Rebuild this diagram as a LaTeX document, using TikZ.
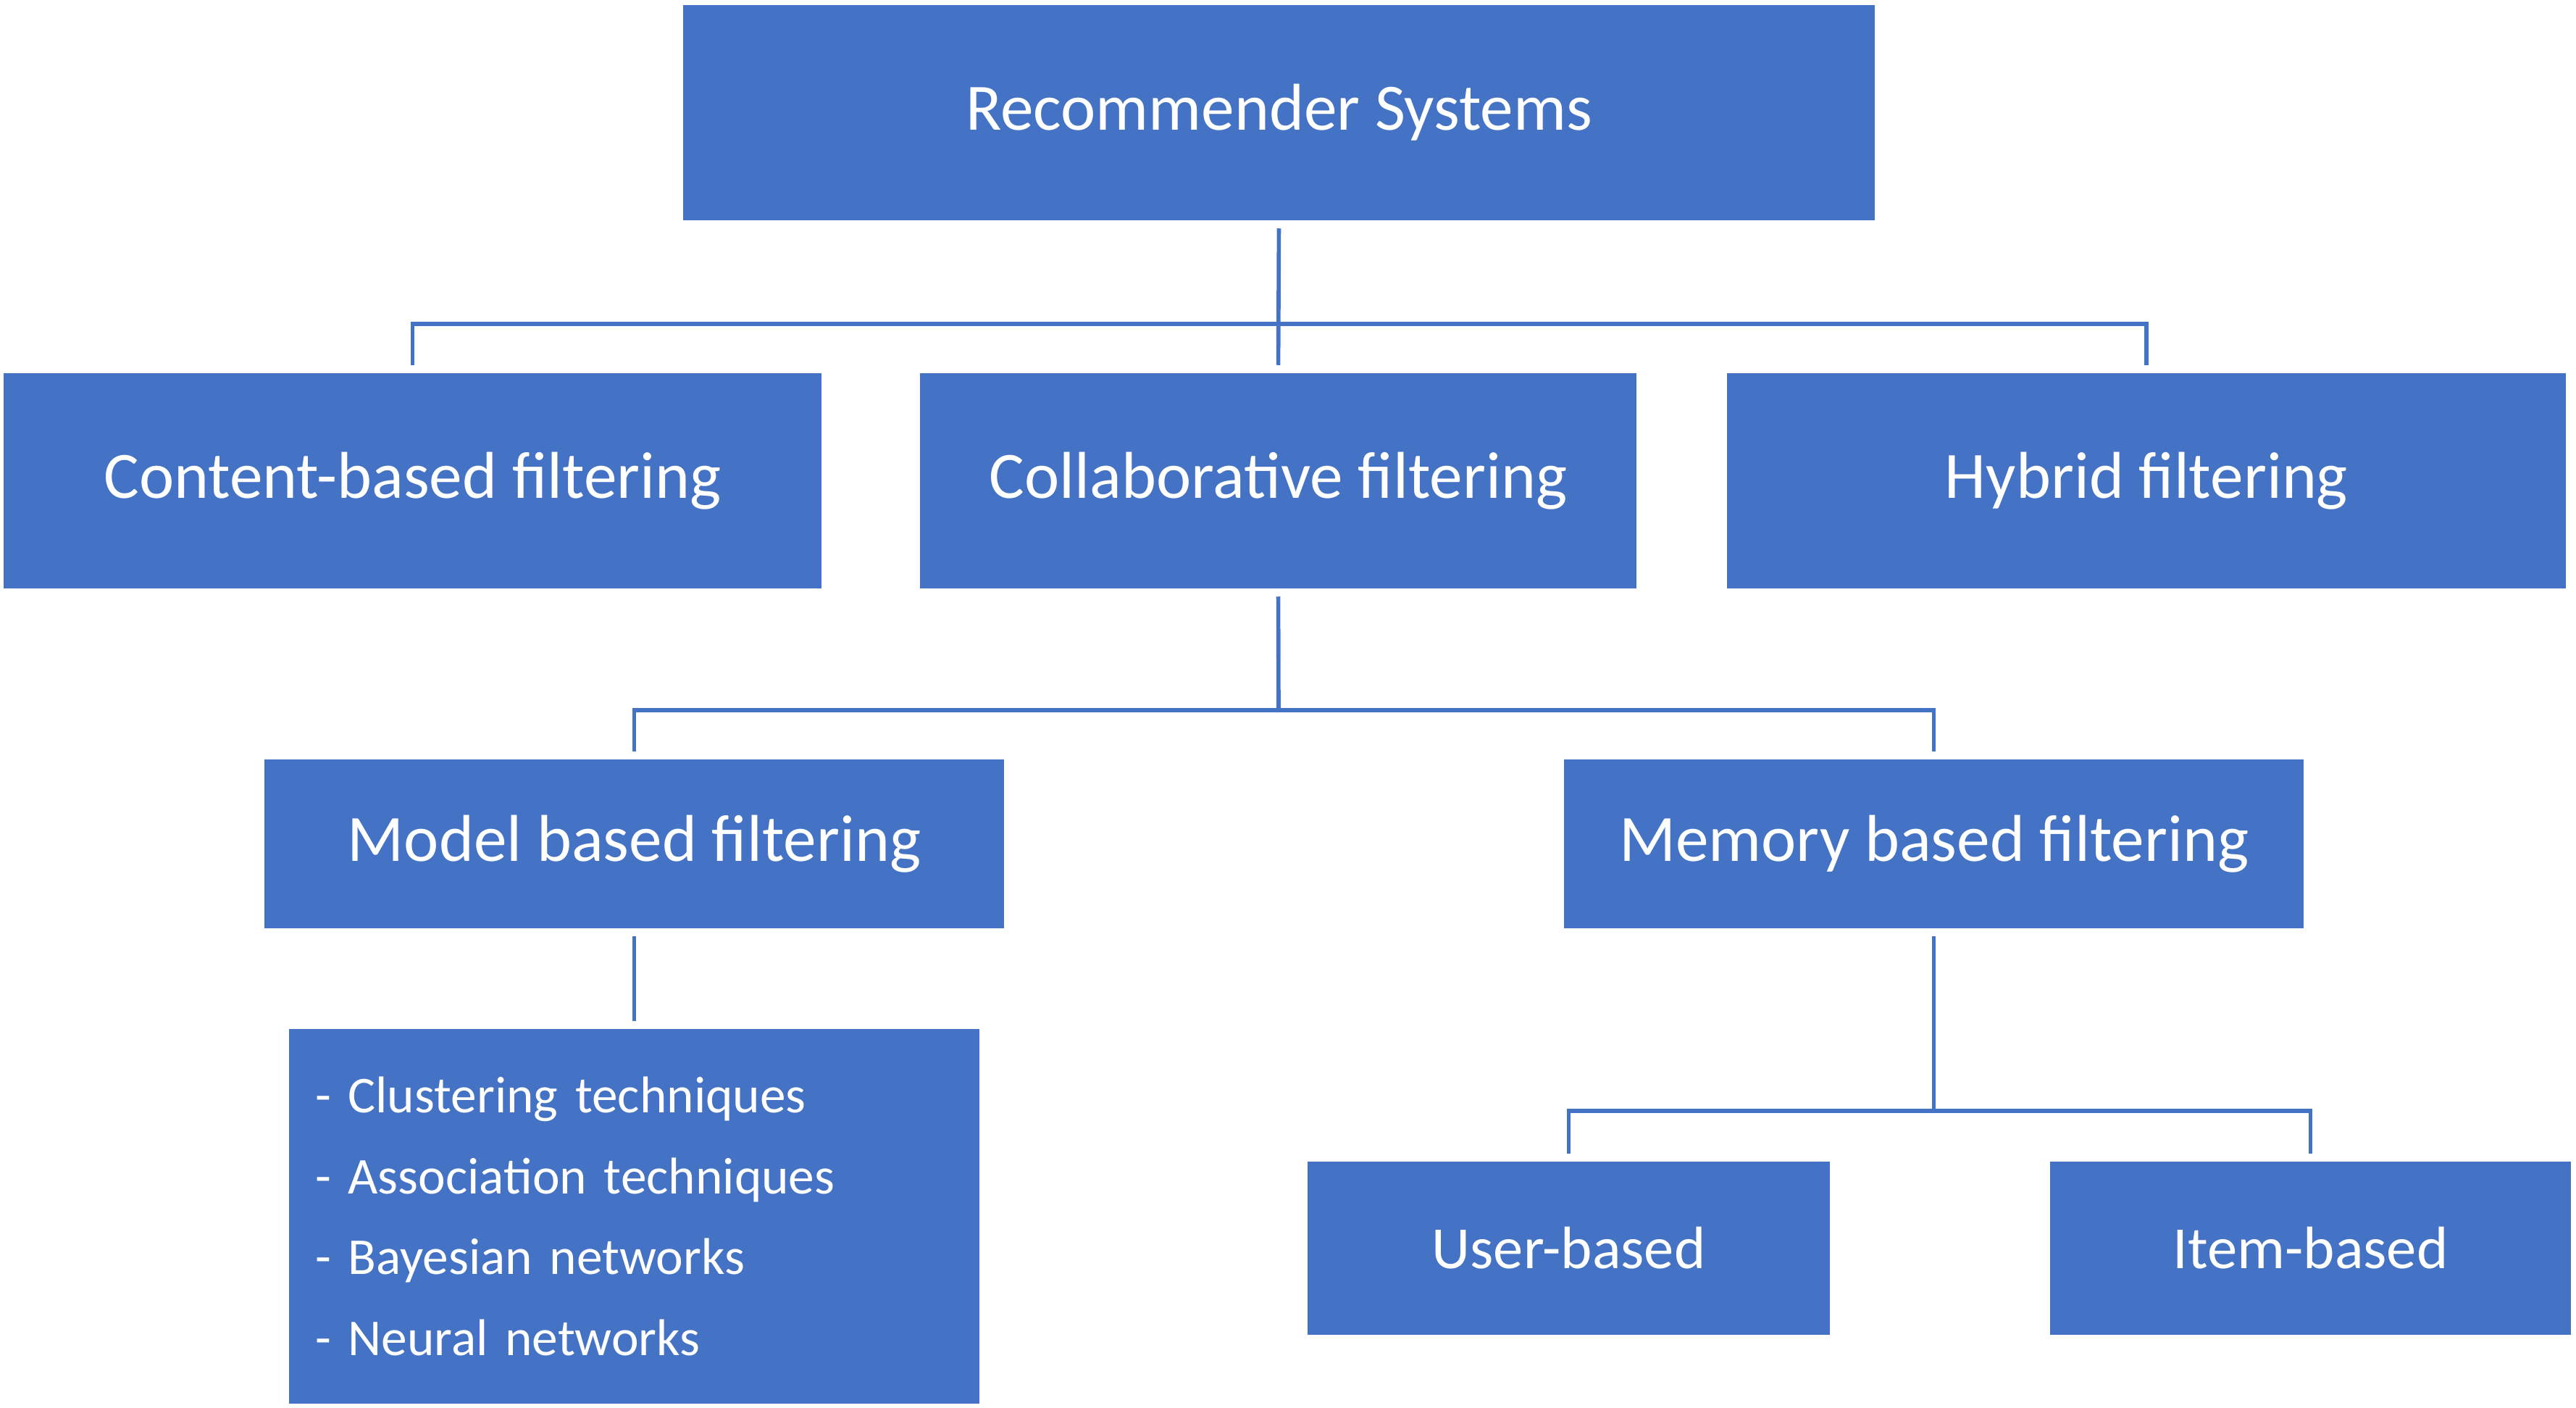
\documentclass[tikz,border=0pt]{standalone}
\usepackage{fontspec}
\setmainfont{Carlito}
\usetikzlibrary{positioning}
\definecolor{boxblue}{HTML}{4472C4}
\tikzset{
  box/.style={fill=boxblue, text=white, inner sep=0pt, align=center,
    font=\fontsize{26}{31}\selectfont},
  smallbox/.style={box, font=\fontsize{23.5}{28}\selectfont},
  link/.style={draw=boxblue, line width=1.6pt, shorten <=3pt, shorten >=3pt},
}

\begin{document}
\begin{tikzpicture}[x=1cm,y=-1cm]
    \useasboundingbox (0,0) rectangle (35.56,19.43);
    % top level
    \node[box, minimum width=16.45cm, minimum height=2.97cm] (root) at (17.655,1.555) {Recommender Systems};
    \node[box, minimum width=11.29cm, minimum height=2.97cm] (content) at (5.695,6.635) {Content-based filtering};
    \node[box, minimum width=9.89cm, minimum height=2.97cm] (collab) at (17.645,6.635) {Collaborative filtering};
    \node[box, minimum width=11.58cm, minimum height=2.97cm] (hybrid) at (29.63,6.635) {Hybrid filtering};
    % collaborative filtering
    \node[box, minimum width=10.21cm, minimum height=2.33cm] (model) at (8.755,11.645) {Model based filtering};
    \node[box, minimum width=10.21cm, minimum height=2.33cm] (memory) at (26.695,11.645) {Memory based filtering};
    \node[box, minimum width=9.53cm, minimum height=5.17cm, align=left, text width=8.81cm,
      font=\fontsize{20.3}{31.8}\selectfont] (methods) at (8.755,16.785)
      {- Clustering techniques\\- Association techniques\\- Bayesian networks\\- Neural networks};
    \node[smallbox, minimum width=7.21cm, minimum height=2.39cm] (user) at (21.655,17.225) {User-based};
    \node[smallbox, minimum width=7.19cm, minimum height=2.39cm] (item) at (31.895,17.225) {Item-based};

    \coordinate (j1) at (17.65,4.47);
    \coordinate (j2) at (17.65,9.8);
    \coordinate (j3) at (26.695,15.33);
    \draw[link] (root.south) -- (collab.north);
    \draw[link] (content.north) |- (j1) -| (hybrid.north);
    \draw[link, shorten >=0pt] (collab.south) -- (j2);
    \draw[link] (model.north) |- (j2) -| (memory.north);
    \draw[link] (model.south) -- (methods.north);
    \draw[link, shorten >=0pt] (memory.south) -- (j3);
    \draw[link] (user.north) |- (j3) -| (item.north);
\end{tikzpicture}
\end{document}
